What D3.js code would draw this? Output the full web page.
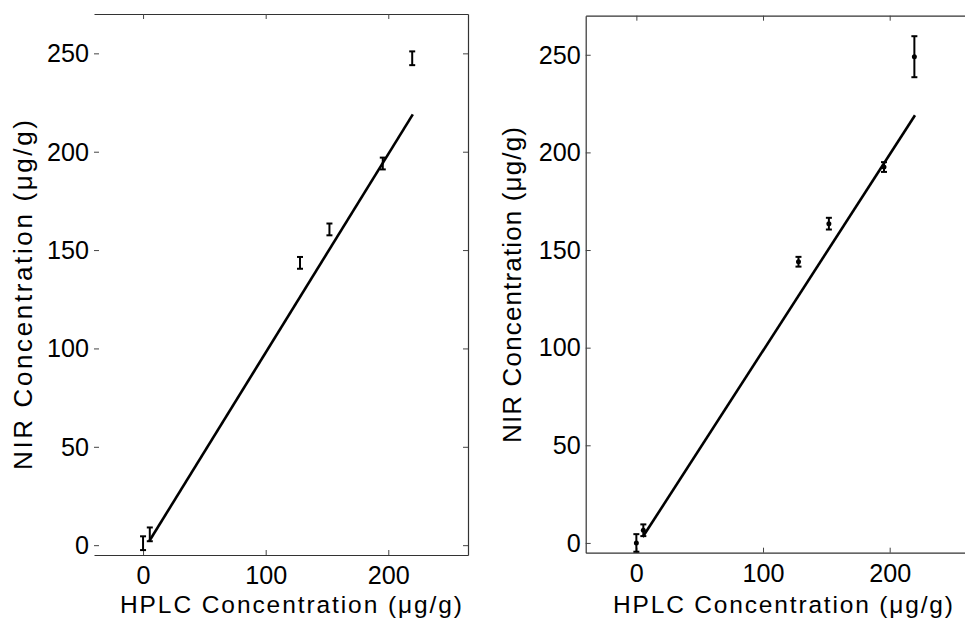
<!DOCTYPE html>
<html>
<head>
<meta charset="utf-8">
<script src="https://cdn.jsdelivr.net/npm/d3@7"></script>
<style>
  html, body { margin: 0; padding: 0; background: #fff; }
  svg { display: block; }
  .tick text { font-family: "Liberation Sans", Arial, sans-serif; fill: #000; }
  .axis-label { font-family: "Liberation Sans", Arial, sans-serif; fill: #000; }
</style>
</head>
<body>
<svg id="chart" width="965" height="623"></svg>
<script>
// HPLC reference concentrations (µg/g) of the samples, shared by both panels
const hplc = [0, 5.5, 128, 152, 195.5, 219.5];

// NIR predictions (µg/g) and their error half-widths, left panel
const nirLeft = [1, 5.5, 143.5, 160.5, 194, 247.5];
const errLeft = [3.5, 3.5, 3, 3, 3, 3.5];

// NIR predictions (µg/g) and their error half-widths, right panel
const nirRight = [0, 6.5, 144, 163.5, 192.5, 249];
const errRight = [4.5, 3, 2.5, 3, 2.5, 10.5];

// Calibration line end points (HPLC, NIR)
const fitX = [5, 220];
const fitLeftY = [2, 219];
const fitRightY = [3, 219];

// Axis ticks and titles
const xTicks = [0, 100, 200];
const yTicks = [0, 50, 100, 150, 200, 250];
const xTitle = "HPLC Concentration (\u03bcg/g)";
const yTitle = "NIR Concentration (\u03bcg/g)";

const xDomain = [-40, 265];
const yDomain = [-5, 270];

const svg = d3.select("#chart");

const panels = [
  { nir: nirLeft, err: errLeft, fitY: fitLeftY,
    box: { l: 94, r: 468, t: 14, b: 555 }, leftSpine: false,
    xTitle: { cx: 291, len: 342 }, yTitle: { base: 32, cy: 295, len: 350 }, markDot: false },
  { nir: nirRight, err: errRight, fitY: fitRightY,
    box: { l: 585.7, r: 972, t: 15.7, b: 552.7 }, leftSpine: true,
    xTitle: { cx: 783, len: 340 }, yTitle: { base: 520.5, cy: 285, len: 316 }, markDot: true }
];

// tick labels: slightly condensed digits
const styleTickText = sel => sel.selectAll(".tick text")
  .style("font-size", "26px")
  .attr("lengthAdjust", "spacingAndGlyphs")
  .attr("textLength", function () { return this.textContent.length * 14; });

const styleAxis = sel => {
  sel.selectAll(".tick line").attr("stroke", "#444").attr("stroke-width", 1);
  sel.select(".domain").attr("stroke", "#333").attr("stroke-width", 1.2);
  styleTickText(sel);
};

panels.forEach(p => {
  const x = d3.scaleLinear().domain(xDomain).range([p.box.l, p.box.r]);
  const y = d3.scaleLinear().domain(yDomain).range([p.box.b, p.box.t]);
  const g = svg.append("g");

  // bottom axis with labels
  g.append("g")
    .attr("transform", `translate(0,${p.box.b})`)
    .call(d3.axisBottom(x).tickValues(xTicks).tickSizeInner(-5).tickSizeOuter(0).tickPadding(10.5))
    .call(styleAxis);

  // top axis: ticks only
  g.append("g")
    .attr("transform", `translate(0,${p.box.t})`)
    .call(d3.axisTop(x).tickValues(xTicks).tickFormat("").tickSizeInner(-5).tickSizeOuter(0))
    .call(styleAxis);

  // left axis with labels
  const la = g.append("g")
    .attr("transform", `translate(${p.box.l},0)`)
    .call(d3.axisLeft(y).tickValues(yTicks).tickSizeInner(-5).tickSizeOuter(0).tickPadding(5))
    .call(styleAxis);
  if (!p.leftSpine) la.select(".domain").remove();

  // right axis: ticks only
  g.append("g")
    .attr("transform", `translate(${p.box.r},0)`)
    .call(d3.axisRight(y).tickValues(yTicks).tickFormat("").tickSizeInner(-5).tickSizeOuter(0))
    .call(styleAxis);

  // calibration line
  const line = d3.line().x(d => x(d[0])).y(d => y(d[1]));
  g.append("path")
    .datum(fitX.map((v, i) => [v, p.fitY[i]]))
    .attr("d", line)
    .attr("fill", "none")
    .attr("stroke", "#000")
    .attr("stroke-width", 2.6);

  // error bars
  const pts = hplc.map((v, i) => ({ x: v, y: p.nir[i], e: p.err[i] }));
  const eb = g.append("g").attr("stroke", "#000").attr("stroke-width", 2);
  const cap = 3;
  pts.forEach(d => {
    const cx = x(d.x), y0 = y(d.y - d.e), y1 = y(d.y + d.e);
    eb.append("line").attr("x1", cx).attr("x2", cx).attr("y1", y0).attr("y2", y1);
    eb.append("line").attr("x1", cx - cap).attr("x2", cx + cap).attr("y1", y0).attr("y2", y0);
    eb.append("line").attr("x1", cx - cap).attr("x2", cx + cap).attr("y1", y1).attr("y2", y1);
  });
  if (p.markDot) {
    g.append("g").selectAll("circle").data(pts).join("circle")
      .attr("cx", d => x(d.x)).attr("cy", d => y(d.y)).attr("r", 2.5).attr("fill", "#000");
  }

  // axis titles
  g.append("text")
    .attr("class", "axis-label")
    .attr("x", p.xTitle.cx).attr("y", 613)
    .attr("text-anchor", "middle")
    .attr("textLength", p.xTitle.len)
    .attr("lengthAdjust", "spacing")
    .style("font-size", "24.5px")
    .text(xTitle);
  g.append("text")
    .attr("class", "axis-label")
    .attr("transform", `translate(${p.yTitle.base},${p.yTitle.cy}) rotate(-90)`)
    .attr("text-anchor", "middle")
    .attr("textLength", p.yTitle.len)
    .attr("lengthAdjust", "spacing")
    .style("font-size", "26px")
    .text(yTitle);
});
</script>
</body>
</html>
